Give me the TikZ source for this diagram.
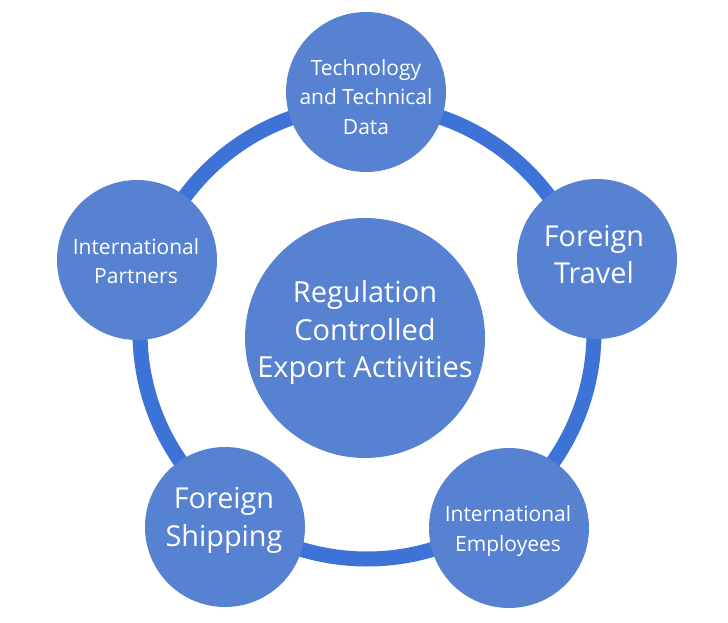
\documentclass[tikz,border=0pt]{standalone}
\usepackage{fontspec}
\setmainfont{Open Sans}
\definecolor{fillblue}{HTML}{5782D2}
\definecolor{ringblue}{HTML}{3D72D6}
\begin{document}
\begin{tikzpicture}[x=1pt,y=-1pt,
  sat/.style={circle,fill=fillblue,draw=none,minimum size=160pt,inner sep=0pt},
  hub/.style={circle,fill=fillblue,draw=none,minimum size=240pt,inner sep=0pt},
  lbl/.style={text=white,align=center,inner sep=0pt},
  big/.style={lbl,font=\fontsize{29}{37.5}\selectfont},
  mid/.style={lbl,font=\fontsize{28.8}{37.5}\selectfont},
  small/.style={lbl,font=\fontsize{21}{29.5}\selectfont}]
\useasboundingbox (0,0) rectangle (728,623);
\coordinate (ringc) at (367,332);
\draw[ringblue,line width=15pt] (ringc) circle[radius=227pt];
\node[hub] (hub) at (365,338) {};
\node[sat] (tech) at (366,92) {};
\node[sat] (travel) at (597,259) {};
\node[sat] (partners) at (137,260) {};
\node[sat] (shipping) at (225,527) {};
\node[sat] (employees) at (509,528) {};
\node[big] (hubtext) at (365,332.5) {Regulation\\Controlled\\Export Activities};
\node[small] (techtext) at (366,97) {Technology\\and Technical\\Data};
\node[mid] (traveltext) at (594,254.5) {Foreign\\Travel};
\node[small] (partnerstext) at (136,261) {International\\Partners};
\node[mid] (shippingtext) at (224,520.5) {Foreign\\Shipping};
\node[small] (employeestext) at (508,531) {International\\Employees};
\end{tikzpicture}
\end{document}
